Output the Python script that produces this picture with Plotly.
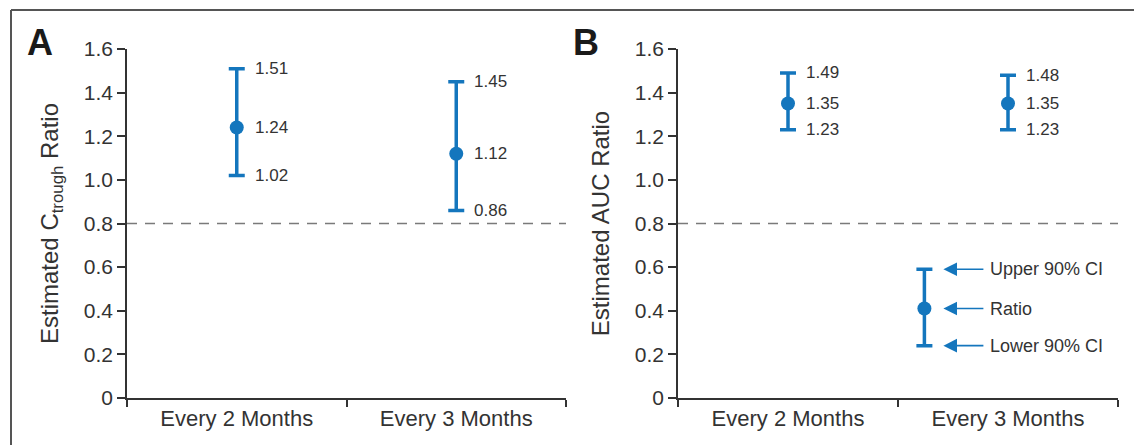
import plotly.graph_objects as go

# Dosing schedules on the x axis
categories = ["Every 2 Months", "Every 3 Months"]

# Panel A: estimated C-trough ratio with 90% CI
ctrough_ratio = [1.24, 1.12]
ctrough_lower = [1.02, 0.86]
ctrough_upper = [1.51, 1.45]

# Panel B: estimated AUC ratio with 90% CI
auc_ratio = [1.35, 1.35]
auc_lower = [1.23, 1.23]
auc_upper = [1.49, 1.48]

# Explanatory key drawn inside panel B
key_ratio = 0.41
key_lower = 0.24
key_upper = 0.59
key_labels = ["Upper 90% CI", "Ratio", "Lower 90% CI"]

y_ticks = [0, 0.2, 0.4, 0.6, 0.8, 1.0, 1.2, 1.4, 1.6]
y_ticktext = ["0", "0.2", "0.4", "0.6", "0.8", "1.0", "1.2", "1.4", "1.6"]
reference_line = 0.8

BLUE = "#1476bd"
INK = "#333333"
FONT = "Liberation Sans, Arial, sans-serif"

W, H = 1134, 445


def px_x(p):
    return p / W


def px_y(p):
    return (H - p) / H


fig = go.Figure()


def add_ci(x, ratio, lower, upper, xa, ya):
    fig.add_trace(go.Scatter(
        x=x, y=ratio, mode="markers",
        marker=dict(color=BLUE, size=14),
        error_y=dict(type="data", symmetric=False,
                     array=[u - r for u, r in zip(upper, ratio)],
                     arrayminus=[r - l for r, l in zip(ratio, lower)],
                     color=BLUE, thickness=3.5, width=8),
        xaxis=xa, yaxis=ya, showlegend=False, hoverinfo="skip",
    ))


xs = list(range(len(categories)))
add_ci(xs, ctrough_ratio, ctrough_lower, ctrough_upper, "x", "y")
add_ci(xs, auc_ratio, auc_lower, auc_upper, "x2", "y2")

# Key in panel B
key_x = 0.62
add_ci([key_x], [key_ratio], [key_lower], [key_upper], "x2", "y2")

# Dashed reference line at 0.8 in both panels
for xa, ya in (("x", "y"), ("x2", "y2")):
    fig.add_trace(go.Scatter(
        x=[-0.5, 1.5], y=[reference_line, reference_line], mode="lines",
        line=dict(color="#7a7a7a", width=1.5, dash="10px,8px"),
        xaxis=xa, yaxis=ya, showlegend=False, hoverinfo="skip",
    ))

annotations = []


def value_labels(ratio, lower, upper, xref, yref):
    for i in range(len(ratio)):
        for v in (upper[i], ratio[i], lower[i]):
            annotations.append(dict(
                x=i, y=v, xref=xref, yref=yref, text=f"{v:.2f}",
                showarrow=False, xanchor="left", yanchor="middle",
                xshift=16, font=dict(family=FONT, size=17, color=INK),
            ))


value_labels(ctrough_ratio, ctrough_lower, ctrough_upper, "x", "y")
value_labels(auc_ratio, auc_lower, auc_upper, "x2", "y2")

# Captions of the key, each with an arrow pointing back at the bar
for label, v in zip(key_labels, [key_upper, key_ratio, key_lower]):
    annotations.append(dict(
        x=key_x, y=v, xref="x2", yref="y2", text=label, showarrow=True,
        xanchor="left", yanchor="middle", ax=45, ay=0, xshift=19,
        startstandoff=5, arrowhead=2, arrowsize=1.7,
        arrowwidth=1.6, arrowcolor=BLUE,
        font=dict(family=FONT, size=18, color=INK),
    ))

# Panel letters
for letter, cx in (("A", 40), ("B", 586)):
    annotations.append(dict(x=px_x(cx), y=px_y(43), xref="paper", yref="paper",
                            text=f"<b>{letter}</b>", showarrow=False,
                            xanchor="center", yanchor="middle",
                            font=dict(family=FONT, size=36, color="#1a1a1a")))

# Outer frame (top and left edges)
shapes = [
    dict(type="line", xref="paper", yref="paper", x0=px_x(11), x1=1.0,
         y0=px_y(10), y1=px_y(10), line=dict(color="#555555", width=2)),
    dict(type="line", xref="paper", yref="paper", x0=px_x(11), x1=px_x(11),
         y0=px_y(10), y1=0, line=dict(color="#555555", width=2)),
]

y_dom = [px_y(398), px_y(49)]


def xaxis_style(domain, anchor):
    return dict(
        domain=domain, anchor=anchor, range=[-0.5, 1.5], automargin=False,
        tickvals=xs, ticktext=categories, ticks="",
        showline=True, linecolor=INK, linewidth=1.5,
        showgrid=False, zeroline=False,
        tickfont=dict(family=FONT, size=22, color=INK),
        minor=dict(tickvals=[-0.5, 0.5, 1.5], ticks="outside", ticklen=7,
                   tickwidth=1.5, tickcolor=INK, showgrid=False),
    )


def yaxis_style(anchor, title):
    return dict(
        domain=y_dom, anchor=anchor, range=[0, 1.6], automargin=False,
        tickvals=y_ticks, ticktext=y_ticktext,
        ticks="outside", ticklen=8, tickwidth=1.5, tickcolor=INK,
        showline=True, linecolor=INK, linewidth=1.5,
        showgrid=False, zeroline=False,
        tickfont=dict(family=FONT, size=21, color=INK),
        title=dict(text=title, standoff=18,
                   font=dict(family=FONT, size=24, color=INK)),
    )


fig.update_layout(
    width=W, height=H, autosize=False,
    margin=dict(l=0, r=0, t=0, b=0, pad=0, autoexpand=False),
    paper_bgcolor="white", plot_bgcolor="white",
    xaxis=xaxis_style([px_x(127), px_x(566)], "y"),
    yaxis=yaxis_style("x", "Estimated C<sub>trough</sub> Ratio"),
    xaxis2=xaxis_style([px_x(678), px_x(1118)], "y2"),
    yaxis2=yaxis_style("x2", "Estimated AUC Ratio"),
    annotations=annotations,
    shapes=shapes,
)

# Let the figure fill the page edge to edge
fig.write_html("out.html", post_script="document.body.style.margin='0';")
